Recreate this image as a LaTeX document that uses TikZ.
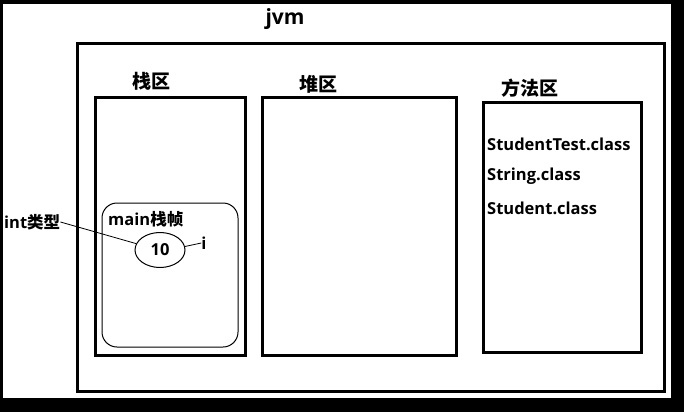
\documentclass[tikz,border=0pt]{standalone}
\usepackage{fontspec}
\setmainfont{Open Sans}
\newfontfamily\cjk{Noto Sans CJK SC}
\usepackage{tikz}
\usetikzlibrary{shapes.geometric}
\usetikzlibrary{positioning}
\tikzset{area/.style = {draw, line width = 3, rectangle, inner sep = 0}}
\tikzset{lbl/.style = {inner sep = 0, font = \fontsize{16.5}{18}\selectfont\bfseries}}
\tikzset{title/.style = {inner sep = 0, font = \fontsize{19}{21}\selectfont\bfseries}}

\begin{document}
\begin{tikzpicture}[x = 1pt, y = -1pt]
    \fill (0, 0) rectangle (684, 412);
    \fill [white] (3.3, 3.7) rectangle (671, 398);
    \useasboundingbox (0, 0) rectangle (684, 412);

    \node [area, minimum width = 586.5, minimum height = 348] (jvm) at (370.75, 217.5) {};
    \node [title, font = \fontsize{21}{23}\selectfont\bfseries] (jvmlbl) at (285, 19) {jvm};

    \node [area, minimum width = 150, minimum height = 258] (stack) at (170, 226) {};
    \node [area, minimum width = 194, minimum height = 258] (heap) at (359, 226) {};
    \node [area, minimum width = 158, minimum height = 250] (method) at (562, 227) {};
    \node [title] (stacklbl) at (151, 81) {\cjk 栈区};
    \node [title] (heaplbl) at (318, 84) {\cjk 堆区};
    \node [title] (methodlbl) at (530, 88) {\cjk 方法区};

    \node [draw, line width = 1, rounded corners = 15, inner sep = 0,
      minimum width = 136, minimum height = 144] (frame) at (170, 275) {};
    \node [lbl, anchor = west] (framelbl) at (108, 219) {main{\cjk 栈帧}};
    \node [lbl, draw, ellipse, line width = 1, minimum width = 50,
      minimum height = 35] (val) at (160, 250) {10};
    \node [lbl] (var) at (204, 243) {i};
    \node [lbl, anchor = west] (type) at (4, 222) {int{\cjk 类型}};
    \draw [line width = 0.8] (type.east) -- (val.165);
    \draw [line width = 0.8] (val.8) -- (var.west);

    \node [lbl, anchor = west] (cls1) at (487, 144) {StudentTest.class};
    \node [lbl, anchor = west] (cls2) at (487, 176) {String.class};
    \node [lbl, anchor = west] (cls3) at (487, 208) {Student.class};
\end{tikzpicture}
\end{document}
